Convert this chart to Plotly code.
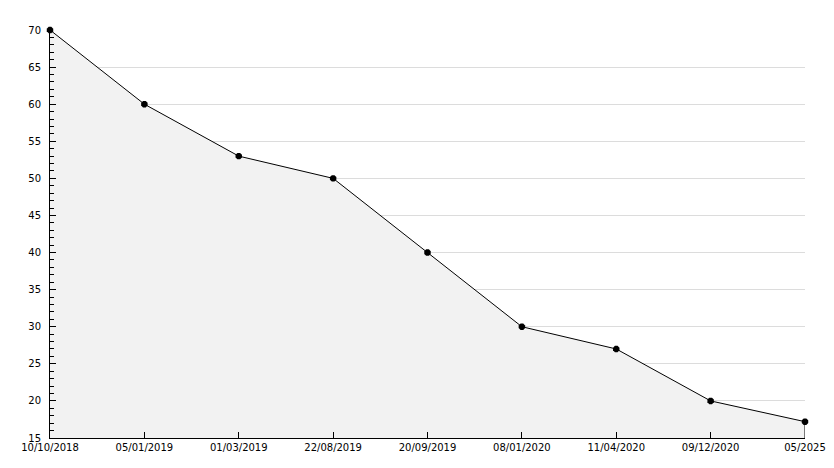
import plotly.graph_objects as go

dates = ["10/10/2018", "05/01/2019", "01/03/2019", "22/08/2019", "20/09/2019",
         "08/01/2020", "11/04/2020", "09/12/2020", "05/2025"]
values = [70, 60, 53, 50, 40, 30, 27, 20, 17.2]
y_min, y_max = 15, 70

fig = go.Figure()
fig.add_trace(go.Scatter(
    x=dates, y=values, mode="lines+markers",
    fill="tozeroy", fillcolor="#f2f2f2",
    line=dict(color="black", width=1),
    marker=dict(symbol="octagon", size=7, color="black"),
    cliponaxis=False,
    hoverinfo="x+y", showlegend=False,
))
# right edge outline of the filled area
fig.add_trace(go.Scatter(
    x=[dates[-1], dates[-1]], y=[y_min, values[-1]], mode="lines",
    line=dict(color="black", width=1), hoverinfo="skip", showlegend=False,
))

# page body has an 8px margin, so compensate
fig.update_layout(
    width=834, height=468,
    margin=dict(l=42, r=37, t=22, b=38, autoexpand=False),
    paper_bgcolor="white", plot_bgcolor="white",
    font=dict(family="DejaVu Sans", size=10, color="black"),
    xaxis=dict(
        type="category", range=[0, len(dates) - 1],
        showgrid=False, zeroline=False,
        showline=True, linecolor="black", linewidth=1,
        ticks="inside", ticklen=6, tickcolor="black",
        tickfont=dict(size=10), automargin=False,
    ),
    yaxis=dict(
        range=[y_min, y_max], dtick=5, tick0=0,
        showgrid=True, gridcolor="#dcdcdc", gridwidth=1, zeroline=False,
        showline=True, linecolor="black", linewidth=1,
        ticks="inside", ticklen=6, tickcolor="black",
        minor=dict(dtick=1, ticks="inside", ticklen=4, tickcolor="black", showgrid=False),
        tickfont=dict(size=10), automargin=False, ticklabelstandoff=6,
    ),
)

fig.write_html("out.html")
